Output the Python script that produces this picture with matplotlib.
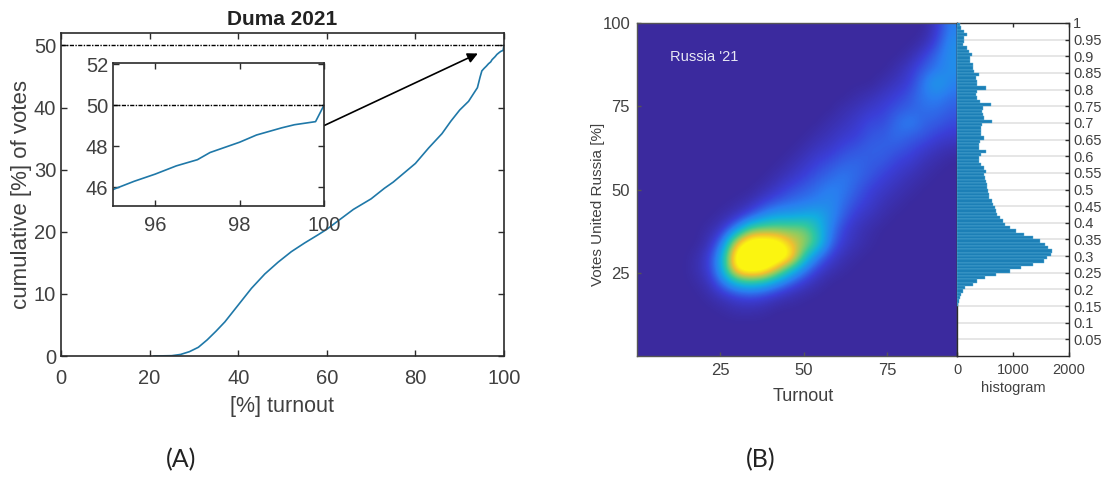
#!/bin/python3

# two panel figure, cumulative votes curve (A) and turnout/votes map with histogram (B)

import numpy as np
import matplotlib
matplotlib.use("Agg")
import matplotlib.pyplot as plt
from matplotlib.colors import LinearSegmentedColormap

# panel A, cumulative curve
turnout = [21, 25, 27, 29, 31, 33, 35, 37, 40, 43, 46, 49, 52, 55, 58, 60, 63, 66, 70, 73,
           75, 78, 80, 83, 86, 88, 90, 92, 94, 94.6, 95, 95.5, 96, 96.5, 97, 97.3, 98,
           98.4, 99, 99.3, 99.8, 100]
cumulative = [0, 0.05, 0.25, 0.7, 1.4, 2.6, 4, 5.5, 8.2, 10.9, 13.2, 15.1, 16.8, 18.2, 19.5,
              20.4, 22, 23.6, 25.3, 27, 28, 29.8, 31, 33.5, 35.8, 37.8, 39.6, 41, 43.2, 44.9,
              45.9, 46.3, 46.65, 47.05, 47.35, 47.7, 48.2, 48.55, 48.9, 49.05, 49.2, 50]

# panel B, density map read cell by cell: columns turnout 2,6,..94, rows votes 98,94,..2
map_levels = [
    [0, 0, 0, 0, 0, 0, 0, 0, 0, 0, 0, 0, 0, 0, 0, 0, 0, 0, 0, 0, 0, 0, 8, 22],
    [0, 0, 0, 0, 0, 0, 0, 0, 0, 0, 0, 0, 0, 0, 0, 0, 0, 0, 0, 0, 0, 3, 12, 25],
    [0, 0, 0, 0, 0, 0, 0, 0, 0, 0, 0, 0, 0, 0, 0, 0, 0, 0, 0, 0, 3, 10, 18, 25],
    [0, 0, 0, 0, 0, 0, 0, 0, 0, 0, 0, 0, 0, 0, 0, 0, 0, 0, 0, 3, 8, 15, 20, 25],
    [0, 0, 0, 0, 0, 0, 0, 0, 0, 0, 0, 0, 0, 0, 0, 0, 0, 0, 3, 6, 10, 20, 30, 22],
    [0, 0, 0, 0, 0, 0, 0, 0, 0, 0, 0, 0, 0, 0, 0, 0, 2, 4, 7, 10, 14, 20, 22, 18],
    [0, 0, 0, 0, 0, 0, 0, 0, 0, 0, 0, 0, 0, 0, 0, 3, 5, 8, 10, 14, 16, 18, 18, 15],
    [0, 0, 0, 0, 0, 0, 0, 0, 0, 0, 0, 0, 0, 0, 3, 5, 8, 12, 12, 18, 22, 16, 15, 12],
    [0, 0, 0, 0, 0, 0, 0, 0, 0, 0, 0, 0, 0, 3, 5, 8, 10, 14, 15, 18, 15, 14, 10, 8],
    [0, 0, 0, 0, 0, 0, 0, 0, 0, 0, 0, 0, 3, 6, 8, 12, 14, 16, 16, 14, 12, 8, 5, 3],
    [0, 0, 0, 0, 0, 0, 0, 0, 0, 0, 0, 3, 6, 10, 13, 16, 17, 15, 14, 10, 8, 4, 2, 0],
    [0, 0, 0, 0, 0, 0, 0, 0, 0, 0, 3, 6, 10, 14, 17, 20, 17, 14, 10, 7, 4, 2, 0, 0],
    [0, 0, 0, 0, 0, 0, 0, 0, 0, 3, 7, 12, 15, 18, 22, 20, 15, 10, 7, 4, 2, 0, 0, 0],
    [0, 0, 0, 0, 0, 0, 0, 1, 4, 10, 15, 18, 20, 22, 24, 18, 12, 8, 4, 2, 0, 0, 0, 0],
    [0, 0, 0, 0, 0, 0, 2, 6, 14, 24, 30, 30, 32, 34, 25, 15, 8, 5, 2, 0, 0, 0, 0, 0],
    [0, 0, 0, 0, 0, 2, 8, 25, 50, 55, 55, 55, 55, 40, 22, 10, 5, 2, 0, 0, 0, 0, 0, 0],
    [0, 0, 0, 0, 0, 5, 22, 70, 95, 95, 90, 70, 60, 45, 18, 8, 4, 1, 0, 0, 0, 0, 0, 0],
    [0, 0, 0, 0, 2, 10, 35, 95, 100, 100, 100, 85, 45, 22, 10, 4, 1, 0, 0, 0, 0, 0, 0, 0],
    [0, 0, 0, 0, 3, 10, 35, 85, 95, 90, 65, 40, 22, 10, 4, 1, 0, 0, 0, 0, 0, 0, 0, 0],
    [0, 0, 0, 0, 1, 6, 20, 35, 40, 35, 25, 15, 8, 3, 0, 0, 0, 0, 0, 0, 0, 0, 0, 0],
    [0, 0, 0, 0, 0, 2, 6, 10, 12, 10, 6, 3, 1, 0, 0, 0, 0, 0, 0, 0, 0, 0, 0, 0],
    [0, 0, 0, 0, 0, 0, 1, 3, 3, 2, 0, 0, 0, 0, 0, 0, 0, 0, 0, 0, 0, 0, 0, 0],
    [0, 0, 0, 0, 0, 0, 0, 0, 0, 0, 0, 0, 0, 0, 0, 0, 0, 0, 0, 0, 0, 0, 0, 0],
    [0, 0, 0, 0, 0, 0, 0, 0, 0, 0, 0, 0, 0, 0, 0, 0, 0, 0, 0, 0, 0, 0, 0, 0],
    [0, 0, 0, 0, 0, 0, 0, 0, 0, 0, 0, 0, 0, 0, 0, 0, 0, 0, 0, 0, 0, 0, 0, 0],
]

# panel B, histogram, one value per 0.01 bin from 0.995 down to 0.155
hist_counts = [50, 80, 130, 170, 120, 120, 110, 170, 220, 260,
               240, 230, 290, 280, 300, 400, 340, 360, 360, 520,
               350, 340, 350, 410, 600, 470, 450, 470, 480, 620,
               450, 430, 420, 420, 480, 410, 400, 400, 520, 420,
               390, 400, 420, 480, 520, 490, 500, 520, 540, 540,
               560, 570, 580, 620, 650, 680, 700, 720, 760, 820,
               860, 950, 1050, 1200, 1350, 1480, 1580, 1630, 1690, 1680,
               1600, 1560, 1350, 1150, 950, 700, 500, 350, 280, 150,
               100, 70, 50, 30, 15]
hist_bins = [0.995 - 0.01 * i for i in range(len(hist_counts))]
hist_ticks = [0.05 * i for i in range(1, 21)]
hist_ticklabels = ["0.05", "0.1", "0.15", "0.2", "0.25", "0.3", "0.35", "0.4", "0.45", "0.5",
                   "0.55", "0.6", "0.65", "0.7", "0.75", "0.8", "0.85", "0.9", "0.95", "1"]

parula = LinearSegmentedColormap.from_list("parula", [
    (0.00, "#3b2a9e"), (0.12, "#3a3fd8"), (0.25, "#2a7df0"), (0.40, "#12aee0"),
    (0.55, "#30c8a0"), (0.70, "#90cc60"), (0.85, "#f0c030"), (1.00, "#fbf510")])

W, H = 1106, 478
TEXT = "#404040"
EDGE = "#2b2b2b"
LINE = "#1f78a8"

plt.rcParams["font.family"] = ["Liberation Sans", "DejaVu Sans"]


def axes_px(fig, left, top, right, bottom):
    # axes rectangle given in image pixels
    return fig.add_axes([left / W, 1 - bottom / H, (right - left) / W, (bottom - top) / H])


def style_box(ax, size, color=EDGE, lw=1.2):
    for s in ax.spines.values():
        s.set_color(color)
        s.set_linewidth(lw)
    ax.tick_params(direction="in", top=True, right=True, length=4, width=1,
                   color=color, labelcolor=TEXT, labelsize=size)


fig = plt.figure(figsize=(W / 100, H / 100), dpi=100)

# panel A
ax = axes_px(fig, 61, 33, 504, 356)
ax.plot(turnout, cumulative, color=LINE, lw=1.2)
ax.axhline(50, color="black", lw=1, ls=(0, (3, 1, 1, 1)))
ax.set_xlim(0, 100)
ax.set_ylim(0, 52)
ax.set_xticks([0, 20, 40, 60, 80, 100])
ax.set_yticks([0, 10, 20, 30, 40, 50])
style_box(ax, 14.5)
ax.tick_params(axis="x", pad=9)
ax.set_xlabel("[%] turnout", fontsize=15.5, color=TEXT, labelpad=6)
ax.set_ylabel("cumulative [%] of votes", fontsize=16, color=TEXT, labelpad=1)
ax.set_title("Duma 2021", fontsize=15, fontweight="bold", color="#222222", pad=6)
ax.annotate("", xy=(94.1, 48.7), xytext=(59.4, 37.1),
            arrowprops=dict(arrowstyle="-|>", color="black", lw=1.2, mutation_scale=15,
                            shrinkA=0, shrinkB=0))

inset = axes_px(fig, 113, 63, 324, 206)
inset.plot(turnout, cumulative, color=LINE, lw=1.2)
inset.axhline(50, color="black", lw=1, ls=(0, (3, 1, 1, 1)))
inset.set_xlim(95, 100)
inset.set_ylim(45.1, 52.05)
inset.set_xticks([96, 98, 100])
inset.set_yticks([46, 48, 50, 52])
style_box(inset, 14.5)
inset.tick_params(axis="x", pad=7)

# panel B, map
hm = axes_px(fig, 637, 23, 957, 356)
hm.imshow(np.array(map_levels), extent=(0, 96, 0, 100), origin="upper", aspect="auto",
          cmap=parula, vmin=0, vmax=82, interpolation="bicubic")
hm.set_xticks([25, 50, 75])
hm.set_yticks([25, 50, 75, 100])
style_box(hm, 12, color="#555555", lw=1)
hm.tick_params(top=False, right=False, length=3, pad=5)
hm.set_xlabel("Turnout", fontsize=13, color=TEXT, labelpad=7, x=0.52)
hm.set_ylabel("Votes United Russia [%]", fontsize=11, color=TEXT, labelpad=-2, y=0.455)
hm.text(10, 89.7, "Russia '21", color="#e8e8f4", fontsize=10.5, va="center")

# panel B, histogram
hs = axes_px(fig, 957, 23, 1069, 356)
hs.barh(hist_bins, hist_counts, height=0.01, color="#1c7fb6", edgecolor="#5fb0d8", linewidth=0.3,
        zorder=3)
hs.set_xlim(0, 2000)
hs.set_ylim(0, 1)
hs.set_xticks([0, 1000, 2000])
hs.set_yticks(hist_ticks)
hs.set_yticklabels(hist_ticklabels)
hs.yaxis.tick_right()
hs.grid(axis="y", color="#e2e2e2", lw=1.2, zorder=0)
style_box(hs, 10.5, lw=1)
hs.tick_params(labelright=True, labelleft=False, length=3, pad=3)
hs.tick_params(axis="x", pad=5)
hs.set_xlabel("histogram", fontsize=10.5, color=TEXT, labelpad=3)

# panel letters
fig.text(181 / W, 1 - 460 / H, "(A)", fontsize=18, color="#222222", ha="center", va="center",
         family="Lato")
fig.text(761 / W, 1 - 460 / H, "(B)", fontsize=18, color="#222222", ha="center", va="center",
         family="Lato")

fig.savefig("out.png", dpi=100)
